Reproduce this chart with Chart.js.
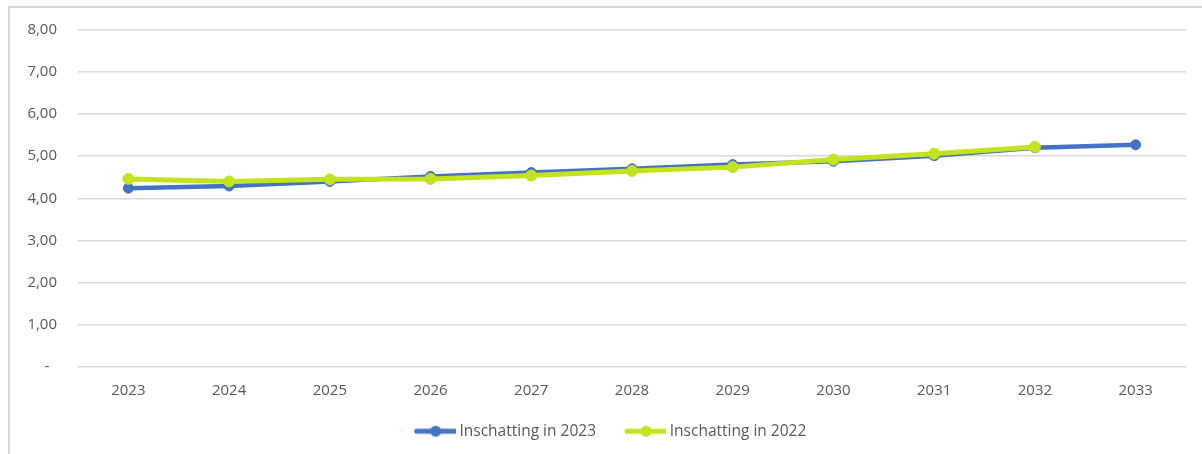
<!DOCTYPE html>
<html>
<head>
<meta charset="utf-8">
<script src="https://cdn.jsdelivr.net/npm/chart.js@4"></script>
<style>
  html, body { margin: 0; padding: 0; background: #ffffff; }
  #wrap { position: relative; width: 1202px; height: 454px; }
</style>
</head>
<body>
<div id="wrap"><canvas id="c" width="1202" height="454"></canvas></div>
<script>
const categories = ['2023','2024','2025','2026','2027','2028','2029','2030','2031','2032','2033'];
const series2023 = [4.24, 4.29, 4.40, 4.52, 4.61, 4.70, 4.80, 4.88, 5.01, 5.20, 5.27];
const series2022 = [4.46, 4.40, 4.45, 4.46, 4.54, 4.65, 4.74, 4.92, 5.06, 5.22, null];
const seriesNames = ['Inschatting in 2023', 'Inschatting in 2022'];
const seriesColors = ['#4472C4', '#C3E31E'];

// legend symbol: line with a marker, with blank lead-in space on the left
function legendIcon(color) {
  const cv = document.createElement('canvas');
  cv.width = 64; cv.height = 14;
  const g = cv.getContext('2d');
  g.strokeStyle = color; g.lineWidth = 5; g.lineCap = 'round';
  g.beginPath(); g.moveTo(25, 7); g.lineTo(63, 7); g.stroke();
  g.fillStyle = color;
  g.beginPath(); g.arc(44, 7, 5.5, 0, Math.PI * 2); g.fill();
  return cv;
}
const icons = seriesColors.map(legendIcon);

const borderPlugin = {
  id: 'frame',
  beforeDraw(chart) {
    const ctx = chart.ctx;
    ctx.save();
    ctx.strokeStyle = '#d9d9d9';
    ctx.lineWidth = 2;
    ctx.beginPath();
    ctx.moveTo(9, 454); ctx.lineTo(9, 7); ctx.lineTo(1202, 7);
    ctx.stroke();
    ctx.restore();
  }
};

new Chart(document.getElementById('c'), {
  type: 'line',
  data: {
    labels: categories,
    datasets: [
      {
        label: seriesNames[0], data: series2023,
        borderColor: seriesColors[0], backgroundColor: seriesColors[0],
        borderWidth: 4.5, pointRadius: 5, pointBorderWidth: 1,
        pointBackgroundColor: seriesColors[0], pointBorderColor: seriesColors[0],
        tension: 0, order: 2
      },
      {
        label: seriesNames[1], data: series2022,
        borderColor: seriesColors[1], backgroundColor: seriesColors[1],
        borderWidth: 5, pointRadius: 5.5, pointBorderWidth: 1,
        pointBackgroundColor: seriesColors[1], pointBorderColor: seriesColors[1],
        tension: 0, order: 1
      }
    ]
  },
  options: {
    responsive: false,
    animation: false,
    devicePixelRatio: 1,
    layout: { padding: { left: 16, right: 16, top: 29, bottom: 5 } },
    scales: {
      x: {
        offset: true,
        grid: { display: false, drawTicks: false },
        border: { display: false },
        ticks: { color: '#595959', font: { family: 'Open Sans', size: 15 }, padding: 15, maxRotation: 0 },
        afterFit(s) { s.height = 47; }
      },
      y: {
        min: 0, max: 8,
        grid: { color: '#d9d9d9', lineWidth: 1.5, drawTicks: false },
        border: { display: false },
        ticks: {
          stepSize: 1, color: '#595959', padding: 21,
          font: { family: 'Open Sans', size: 15 },
          callback: v => v === 0 ? '-  ' : v.toFixed(2).replace('.', ',')
        },
        afterFit(s) { s.width = 62; }
      }
    },
    plugins: {
      legend: {
        position: 'bottom',
        labels: {
          usePointStyle: true,
          pointStyleWidth: 56,
          padding: 10,
          color: '#595959',
          font: { family: 'Open Sans', size: 15.5 },
          sort: (a, b) => a.datasetIndex - b.datasetIndex,
          generateLabels(chart) {
            return chart.data.datasets.map((ds, i) => ({
              text: ds.label,
              fillStyle: seriesColors[i],
              strokeStyle: seriesColors[i],
              lineWidth: 0,
              pointStyle: icons[i],
              hidden: false,
              datasetIndex: i,
              fontColor: '#595959'
            }));
          }
        }
      },
      tooltip: { enabled: false }
    }
  },
  plugins: [borderPlugin]
});
</script>
</body>
</html>
